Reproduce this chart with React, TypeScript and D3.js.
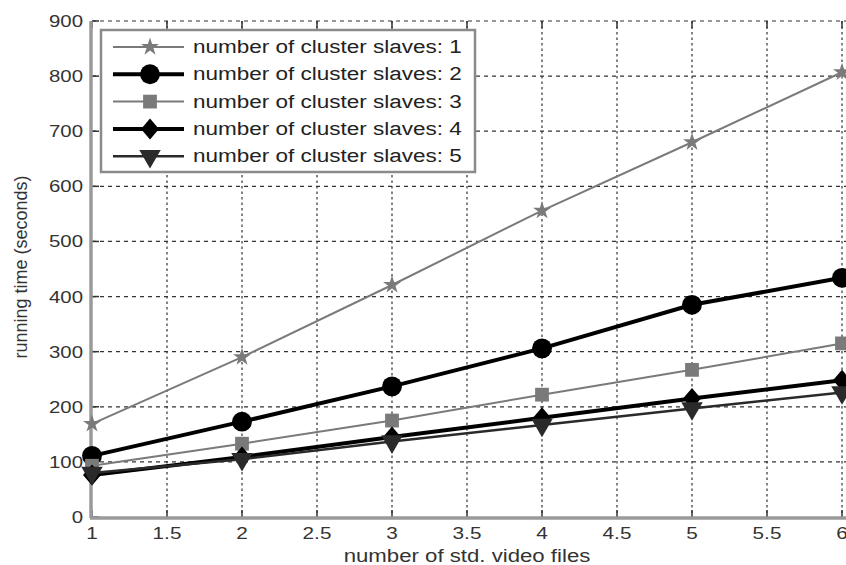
import { useEffect, useRef } from 'react';
import * as d3 from 'd3';

const xValues = [1, 2, 3, 4, 5, 6];
const slaves1 = [169, 290, 421, 556, 680, 807];
const slaves2 = [111, 173, 237, 306, 385, 434];
const slaves3 = [93, 133, 175, 222, 267, 315];
const slaves4 = [76, 109, 145, 180, 215, 248];
const slaves5 = [80, 105, 137, 167, 197, 226];
const seriesNames = [
  'number of cluster slaves: 1',
  'number of cluster slaves: 2',
  'number of cluster slaves: 3',
  'number of cluster slaves: 4',
  'number of cluster slaves: 5',
];
const xTicks = [1, 1.5, 2, 2.5, 3, 3.5, 4, 4.5, 5, 5.5, 6];
const yTicks = [0, 100, 200, 300, 400, 500, 600, 700, 800, 900];

const styles = [
  { color: '#7a7a7a', width: 2, symbol: d3.symbolStar, size: 100, tf: '' },
  { color: '#000', width: 4, symbol: d3.symbolCircle, size: 310, tf: '' },
  { color: '#7a7a7a', width: 2, symbol: d3.symbolSquare, size: 190, tf: '' },
  { color: '#000', width: 4, symbol: d3.symbolSquare, size: 200, tf: 'scale(0.9,1.05) rotate(45)' },
  { color: '#2a2a2a', width: 2.5, symbol: d3.symbolTriangle, size: 200, tf: 'rotate(180)' },
];

const App = () => {
  const svgRef = useRef(null);

  useEffect(() => {
    const svg = d3.select(svgRef.current);
    svg.selectAll('*').remove();

    const x = d3.scaleLinear().domain([1, 6]).range([92, 842]);
    const y = d3.scaleLinear().domain([0, 900]).range([517, 21]);
    const font = 'Liberation Sans, Arial, sans-serif';

    // text looks horizontally stretched in the source image
    const label = (px, py, str, size, anchor, sx, fill = '#333') => {
      svg.append('text')
        .attr('transform', `translate(${px},${py}) scale(${sx},1)`)
        .attr('text-anchor', anchor)
        .style('font-family', font).style('font-size', `${size}px`).style('fill', fill)
        .text(str);
    };

    // grid
    const grid = svg.append('g').attr('stroke', '#333').attr('stroke-width', 1.2);
    xTicks.slice(1).forEach((t) => {
      grid.append('line').attr('x1', x(t)).attr('x2', x(t)).attr('y1', y(900)).attr('y2', y(0))
        .attr('stroke-dasharray', '2.5,3');
    });
    yTicks.slice(1).forEach((t) => {
      grid.append('line').attr('x1', x(1)).attr('x2', 846).attr('y1', y(t)).attr('y2', y(t))
        .attr('stroke-dasharray', '4,4');
    });

    // ticks
    const ticks = svg.append('g').attr('stroke', '#333').attr('stroke-width', 1.5);
    xTicks.forEach((t) => {
      ticks.append('line').attr('x1', x(t)).attr('x2', x(t)).attr('y1', y(0)).attr('y2', y(0) - 7);
      ticks.append('line').attr('x1', x(t)).attr('x2', x(t)).attr('y1', y(900)).attr('y2', y(900) + 7);
    });
    yTicks.forEach((t) => {
      ticks.append('line').attr('x1', x(1)).attr('x2', x(1) + 7).attr('y1', y(t)).attr('y2', y(t));
    });

    // axis lines
    svg.append('line').attr('x1', x(1) - 1).attr('x2', x(1) - 1).attr('y1', y(900)).attr('y2', y(0) + 1)
      .attr('stroke', '#9a9a9a').attr('stroke-width', 3.5);
    svg.append('line').attr('x1', x(1) - 2).attr('x2', 846).attr('y1', y(0) + 1).attr('y2', y(0) + 1)
      .attr('stroke', '#9a9a9a').attr('stroke-width', 3.5);

    // tick labels (the last one is clipped by the right edge, as in the source)
    xTicks.forEach((t) => label(x(t), 539, String(t), 17, 'middle', 1.22));
    yTicks.forEach((t) => label(83, y(t) + 6, String(t), 17, 'end', 1.2));

    label(467, 562, 'number of std. video files', 18.5, 'middle', 1.2);
    svg.append('text').attr('transform', 'translate(27,267) rotate(-90)').attr('text-anchor', 'middle')
      .style('font-family', font).style('font-size', '18px').style('fill', '#333')
      .text('running time (seconds)');

    const allSeries = [slaves1, slaves2, slaves3, slaves4, slaves5];
    const line = d3.line<number>().x((d, i) => x(xValues[i])).y((d) => y(d));

    allSeries.forEach((vals, k) => {
      const s = styles[k];
      const g = svg.append('g');
      g.append('path').attr('d', line(vals)).attr('fill', 'none').attr('stroke', s.color).attr('stroke-width', s.width);
      g.selectAll('path.m').data(vals).enter().append('path').attr('class', 'm')
        .attr('d', d3.symbol().type(s.symbol).size(s.size)())
        .attr('transform', (d, i) => `translate(${x(xValues[i])},${y(d)}) ${s.tf}`)
        .attr('fill', s.color);
    });

    // legend
    const lg = svg.append('g');
    lg.append('rect').attr('x', 101).attr('y', 30).attr('width', 374).attr('height', 142)
      .attr('fill', '#fff').attr('stroke', '#8a8a8a').attr('stroke-width', 2.5);
    seriesNames.forEach((name, k) => {
      const s = styles[k];
      const ly = 47 + k * 27.3;
      lg.append('line').attr('x1', 113).attr('x2', 184).attr('y1', ly).attr('y2', ly)
        .attr('stroke', s.color).attr('stroke-width', s.width);
      lg.append('path').attr('d', d3.symbol().type(s.symbol).size(s.size)())
        .attr('transform', `translate(150,${ly}) ${s.tf}`).attr('fill', s.color);
      lg.append('text').attr('transform', `translate(193,${ly + 6}) scale(1.25,1)`)
        .style('font-family', font).style('font-size', '18px').style('fill', '#222')
        .text(name);
    });
  }, []);

  return (
    <svg ref={svgRef} width={846} height={565}
      style={{ position: 'absolute', left: 0, top: 0, background: '#fff' }}></svg>
  );
};

export default App;
